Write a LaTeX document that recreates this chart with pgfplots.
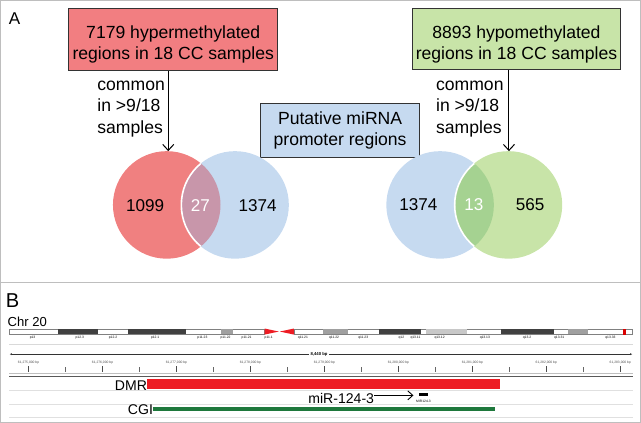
\documentclass[border=0pt]{standalone}
\usepackage{pgfplots}
\pgfplotsset{compat=1.18}
\usepackage{fontspec}
\setmainfont{Liberation Sans}
\usetikzlibrary{arrows.meta}
\definecolor{vred}{RGB}{240,128,128}
\definecolor{boxred}{RGB}{242,126,129}
\definecolor{vblue}{RGB}{198,218,240}
\definecolor{vgreen}{RGB}{200,228,168}
\definecolor{ovrb}{RGB}{200,150,170}
\definecolor{ovgb}{RGB}{165,210,145}
\definecolor{dmr}{RGB}{237,28,36}
\definecolor{cgi}{RGB}{30,120,60}
\definecolor{frame}{RGB}{190,190,190}
\definecolor{darkband}{RGB}{64,64,64}
\definecolor{midband}{RGB}{160,160,160}
\definecolor{lightband}{RGB}{200,200,200}
\newcommand{\bigtxt}{\fontsize{17.5}{21}\selectfont}
\newcommand{\tinyt}{\fontsize{3.3}{4}\selectfont}
\begin{document}
\begin{tikzpicture}
\begin{axis}[
  scale only axis, width=641pt, height=422pt,
  xmin=0, xmax=641, ymin=0, ymax=422, y dir=reverse,
  hide axis, clip=false]
% ---------- frames
\addplot[draw=frame, line width=0.8pt] coordinates {(1,1) (638,1) (638,282) (1,282)} --cycle;
\addplot[draw=frame, line width=0.8pt] coordinates {(1,282) (638,282) (638,421) (1,421)} --cycle;
% ---------- panel A labels
\node[anchor=center, font=\fontsize{17}{20}\selectfont] at (axis cs:15,19) {A};
% red box
\addplot[fill=boxred, draw=black!80, line width=0.8pt] coordinates {(69,9) (277,9) (277,71) (69,71)} --cycle;
\node[align=center, font=\bigtxt] at (axis cs:173,44.5) {7179 hypermethylated\\regions in 18 CC samples};
% green box
\addplot[fill=vgreen, draw=black!80, line width=0.8pt] coordinates {(411,9) (618,9) (618,70) (411,70)} --cycle;
\node[align=center, font=\bigtxt] at (axis cs:514.5,44.5) {8893 hypomethylated\\regions in 18 CC samples};
% blue box
\addplot[fill=vblue, draw=black!80, line width=0.8pt] coordinates {(260,103) (418,103) (418,157) (260,157)} --cycle;
\node[align=center, font=\bigtxt] at (axis cs:339,130) {Putative miRNA\\promoter regions};
% arrows
\draw[-{Straight Barb[length=6pt,width=11pt]}, line width=1pt] (axis cs:168,71) -- (axis cs:168,151);
\draw[-{Straight Barb[length=6pt,width=11pt]}, line width=1pt] (axis cs:507,70) -- (axis cs:507,151);
\node[align=left, anchor=north west, font=\bigtxt] at (axis cs:94,78) {common\\in >9/18\\samples};
\node[align=left, anchor=north west, font=\bigtxt] at (axis cs:431,78) {common\\in >9/18\\samples};
% left venn
\fill[vred] (axis cs:166.5,204.5) circle[radius=53.5];
\fill[vblue] (axis cs:234.5,204.5) circle[radius=53.5];
\begin{scope}
\clip (axis cs:166.5,204.5) circle[radius=53.5];
\fill[ovrb] (axis cs:234.5,204.5) circle[radius=53.5];
\draw[white, line width=1.6pt] (axis cs:234.5,204.5) circle[radius=53.5];
\end{scope}
\node[font=\fontsize{17}{20}\selectfont] at (axis cs:145,205) {1099};
\node[white, font=\fontsize{17}{20}\selectfont] at (axis cs:200,205) {27};
\node[font=\fontsize{17}{20}\selectfont] at (axis cs:257,205) {1374};
% right venn
\fill[vblue] (axis cs:438.5,204.5) circle[radius=53.5];
\fill[vgreen] (axis cs:506.5,204.5) circle[radius=53.5];
\begin{scope}
\clip (axis cs:438.5,204.5) circle[radius=53.5];
\fill[ovgb] (axis cs:506.5,204.5) circle[radius=53.5];
\draw[white, line width=1.6pt] (axis cs:506.5,204.5) circle[radius=53.5];
\end{scope}
\node[font=\fontsize{17}{20}\selectfont] at (axis cs:417,204) {1374};
\node[white, font=\fontsize{17}{20}\selectfont] at (axis cs:472,204) {13};
\node[font=\fontsize{17}{20}\selectfont] at (axis cs:528,204) {565};
% ---------- panel B
\node[font=\fontsize{20}{22}\selectfont] at (axis cs:13,300) {B};
\node[anchor=base west, inner sep=0pt, font=\fontsize{13}{15}\selectfont] at (axis cs:8,325) {Chr 20};
% ideogram outline
\addplot[fill=white, draw=gray, line width=0.5pt] coordinates {(10,328) (264,328) (264,333) (10,333)} --cycle;
\addplot[fill=white, draw=gray, line width=0.5pt] coordinates {(293,328) (630,328) (630,333) (293,333)} --cycle;
% dark bands
\addplot[fill=darkband, draw=none] coordinates {(58,328) (98,328) (98,333) (58,333)} --cycle;
\addplot[fill=darkband, draw=none] coordinates {(128,328) (186,328) (186,333) (128,333)} --cycle;
\addplot[fill=darkband, draw=none] coordinates {(378,328) (419,328) (419,333) (378,333)} --cycle;
\addplot[fill=darkband, draw=none] coordinates {(499,328) (552,328) (552,333) (499,333)} --cycle;
% mid bands
\addplot[fill=midband, draw=none] coordinates {(220,328) (232,328) (232,333) (220,333)} --cycle;
\addplot[fill=midband, draw=none] coordinates {(322,328) (347,328) (347,333) (322,333)} --cycle;
\addplot[fill=midband, draw=none] coordinates {(566,328) (586,328) (586,333) (566,333)} --cycle;
\addplot[fill=lightband, draw=none] coordinates {(424,328) (465,328) (465,333) (424,333)} --cycle;
\addplot[fill=red!85!black, draw=none] coordinates {(620,327.5) (623,327.5) (623,333.5) (620,333.5)} --cycle;
% centromere
\addplot[fill=dmr, draw=none] coordinates {(264,327.5) (278,330.5) (264,333.5)} --cycle;
\addplot[fill=dmr, draw=none] coordinates {(293,327.5) (279,330.5) (293,333.5)} --cycle;
% band labels
\node[font=\tinyt] at (axis cs:33,336.5) {p13};
\node[font=\tinyt] at (axis cs:80,336.5) {p12.3};
\node[font=\tinyt] at (axis cs:113,336.5) {p12.2};
\node[font=\tinyt] at (axis cs:155,336.5) {p12.1};
\node[font=\tinyt] at (axis cs:202,336.5) {p11.23};
\node[font=\tinyt] at (axis cs:225,336.5) {p11.22};
\node[font=\tinyt] at (axis cs:246,336.5) {p11.21};
\node[font=\tinyt] at (axis cs:268,336.5) {p11.1};
\node[font=\tinyt] at (axis cs:302,336.5) {q11.21};
\node[font=\tinyt] at (axis cs:333,336.5) {q11.22};
\node[font=\tinyt] at (axis cs:362,336.5) {q11.23};
\node[font=\tinyt] at (axis cs:400,336.5) {q12};
\node[font=\tinyt] at (axis cs:414,336.5) {q13.11};
\node[font=\tinyt] at (axis cs:438,336.5) {q13.12};
\node[font=\tinyt] at (axis cs:483,336.5) {q13.13};
\node[font=\tinyt] at (axis cs:525,336.5) {q13.2};
\node[font=\tinyt] at (axis cs:557,336.5) {q13.31};
\node[font=\tinyt] at (axis cs:608,336.5) {q13.33};
% lines
\addplot[draw=black!15, line width=0.6pt] coordinates {(10,343) (630,343)};
\draw[black!80, line width=0.6pt, {Latex[length=2.5pt,width=2pt]}-{Latex[length=2.5pt,width=2pt]}] (axis cs:10,353) -- (axis cs:630,353);
\node[fill=white, inner sep=1.5pt, font=\fontsize{4.2}{5}\selectfont\bfseries] at (axis cs:318,353) {8,440 bp};
% ruler labels
\node[font=\tinyt, text=black!70] at (axis cs:29,361) {61,275,000 bp};
\node[font=\tinyt, text=black!70] at (axis cs:102.6,361) {61,276,000 bp};
\node[font=\tinyt, text=black!70] at (axis cs:176.2,361) {61,277,000 bp};
\node[font=\tinyt, text=black!70] at (axis cs:249.8,361) {61,278,000 bp};
\node[font=\tinyt, text=black!70] at (axis cs:323.4,361) {61,279,000 bp};
\node[font=\tinyt, text=black!70] at (axis cs:397,361) {61,280,000 bp};
\node[font=\tinyt, text=black!70] at (axis cs:470.6,361) {61,281,000 bp};
\node[font=\tinyt, text=black!70] at (axis cs:544.2,361) {61,282,000 bp};
\node[font=\tinyt, text=black!70] at (axis cs:617.8,361) {61,283,000 bp};
% ruler ticks (major)
\addplot[draw=black!70, line width=0.5pt] coordinates {(29,365) (29,371)};
\addplot[draw=black!70, line width=0.5pt] coordinates {(102.6,365) (102.6,371)};
\addplot[draw=black!70, line width=0.5pt] coordinates {(176.2,365) (176.2,371)};
\addplot[draw=black!70, line width=0.5pt] coordinates {(249.8,365) (249.8,371)};
\addplot[draw=black!70, line width=0.5pt] coordinates {(323.4,365) (323.4,371)};
\addplot[draw=black!70, line width=0.5pt] coordinates {(397,365) (397,371)};
\addplot[draw=black!70, line width=0.5pt] coordinates {(470.6,365) (470.6,371)};
\addplot[draw=black!70, line width=0.5pt] coordinates {(544.2,365) (544.2,371)};
\addplot[draw=black!70, line width=0.5pt] coordinates {(617.8,365) (617.8,371)};
% minor ticks
\addplot[draw=black!60, line width=0.5pt] coordinates {(65.8,366) (65.8,371)};
\addplot[draw=black!60, line width=0.5pt] coordinates {(139.4,366) (139.4,371)};
\addplot[draw=black!60, line width=0.5pt] coordinates {(213,366) (213,371)};
\addplot[draw=black!60, line width=0.5pt] coordinates {(286.6,366) (286.6,371)};
\addplot[draw=black!60, line width=0.5pt] coordinates {(360.2,366) (360.2,371)};
\addplot[draw=black!60, line width=0.5pt] coordinates {(433.8,366) (433.8,371)};
\addplot[draw=black!60, line width=0.5pt] coordinates {(507.4,366) (507.4,371)};
\addplot[draw=black!60, line width=0.5pt] coordinates {(581,366) (581,371)};
\addplot[draw=black!25, line width=0.5pt] coordinates {(10,372) (630,372)};
\addplot[draw=black!65, line width=1.4pt] coordinates {(10,375.5) (630,375.5)};
% track separators
\addplot[draw=black!12, line width=0.6pt] coordinates {(10,389) (630,389)};
\addplot[draw=black!12, line width=0.6pt] coordinates {(10,403) (630,403)};
\addplot[draw=black!12, line width=0.6pt] coordinates {(10,416) (630,416)};
% DMR
\addplot[fill=dmr, draw=none] coordinates {(147,378) (498,378) (498,388) (147,388)} --cycle;
\node[anchor=east, inner sep=0pt, font=\fontsize{14}{16}\selectfont] at (axis cs:147,384) {DMR};
% CGI
\addplot[fill=cgi, draw=none] coordinates {(153,406) (493,406) (493,410) (153,410)} --cycle;
\node[anchor=east, inner sep=0pt, font=\fontsize{14}{16}\selectfont] at (axis cs:153,408) {CGI};
% miR
\node[anchor=east, inner sep=0pt, font=\fontsize{14}{16}\selectfont] at (axis cs:373,397) {miR-124-3};
\draw[-{Straight Barb[length=5pt,width=9pt]}, line width=0.9pt] (axis cs:373,394) -- (axis cs:412,394);
\addplot[fill=black, draw=none] coordinates {(418,392) (426,392) (426,394.5) (418,394.5)} --cycle;
\node[font=\tinyt] at (axis cs:422,399.5) {MIR124-3};
\end{axis}
\end{tikzpicture}
\end{document}
